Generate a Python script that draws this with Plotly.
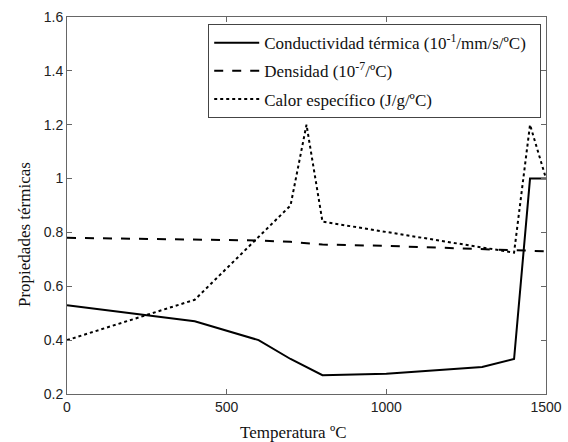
import plotly.graph_objects as go

# Data
temp_cond = [0, 400, 600, 700, 800, 1000, 1300, 1400, 1450, 1500]
conductividad = [0.53, 0.47, 0.40, 0.33, 0.27, 0.275, 0.30, 0.33, 1.0, 1.0]

temp_dens = [0, 400, 600, 700, 800, 1000, 1400, 1500]
densidad = [0.78, 0.775, 0.77, 0.765, 0.755, 0.75, 0.735, 0.73]

temp_calor = [0, 400, 700, 750, 800, 1400, 1450, 1500]
calor = [0.40, 0.55, 0.90, 1.20, 0.84, 0.725, 1.20, 1.00]

names = [
    "Conductividad térmica (10<sup>-1</sup>/mm/s/ºC)&nbsp;&nbsp;",
    "Densidad (10<sup>-7</sup>/ºC)",
    "Calor específico (J/g/ºC)",
]

x_ticks = [0, 500, 1000, 1500]
y_ticks = [0.2, 0.4, 0.6, 0.8, 1.0, 1.2, 1.4, 1.6]
y_ticklabels = ["0.2", "0.4", "0.6", "0.8", "1", "1.2", "1.4", "1.6"]

x_title = "Temperatura ºC"
y_title = "Propiedades térmicas"

fig = go.Figure()
fig.add_trace(go.Scatter(x=temp_cond, y=conductividad, mode="lines", name=names[0],
                         legendgroup="a",
                         line=dict(color="black", width=2, dash="solid")))
fig.add_trace(go.Scatter(x=temp_dens, y=densidad, mode="lines", name=names[1],
                         legendgroup="b",
                         line=dict(color="black", width=2, dash="dash")))
fig.add_trace(go.Scatter(x=temp_calor, y=calor, mode="lines", name=names[2],
                         legendgroup="c",
                         line=dict(color="black", width=2, dash="dot")))

serif = "'Liberation Serif', 'Times New Roman', serif"
sans = "'Liberation Sans', Arial, sans-serif"

axis_common = dict(showgrid=False, zeroline=False, showline=True, linecolor="#666",
                   linewidth=1, mirror="ticks", ticks="inside", ticklen=5,
                   tickcolor="#666", automargin=False,
                   tickfont=dict(family=sans, size=14, color="#222"))

fig.update_xaxes(range=[0, 1500], tickvals=x_ticks, **axis_common)
fig.update_yaxes(range=[0.2, 1.6], tickvals=y_ticks, ticktext=y_ticklabels, **axis_common)

fig.add_annotation(text=x_title, xref="paper", yref="paper", x=0.472, y=-0.103,
                   xanchor="center", yanchor="middle", showarrow=False,
                   font=dict(family=serif, size=17, color="#111"))
fig.add_annotation(text=y_title, xref="paper", yref="paper", x=-0.09, y=0.424,
                   xanchor="center", yanchor="middle", showarrow=False, textangle=-90,
                   font=dict(family=serif, size=17, color="#111"))

fig.update_layout(
    width=568, height=442,
    margin=dict(l=67, r=22, t=17, b=48),
    plot_bgcolor="white", paper_bgcolor="white",
    legend=dict(x=0.99, y=0.981, xanchor="right", yanchor="top",
                bgcolor="white", bordercolor="#444", borderwidth=1,
                tracegroupgap=3, itemwidth=45,
                font=dict(family=serif, size=17, color="#111")),
)

fig.write_html("out.html")
